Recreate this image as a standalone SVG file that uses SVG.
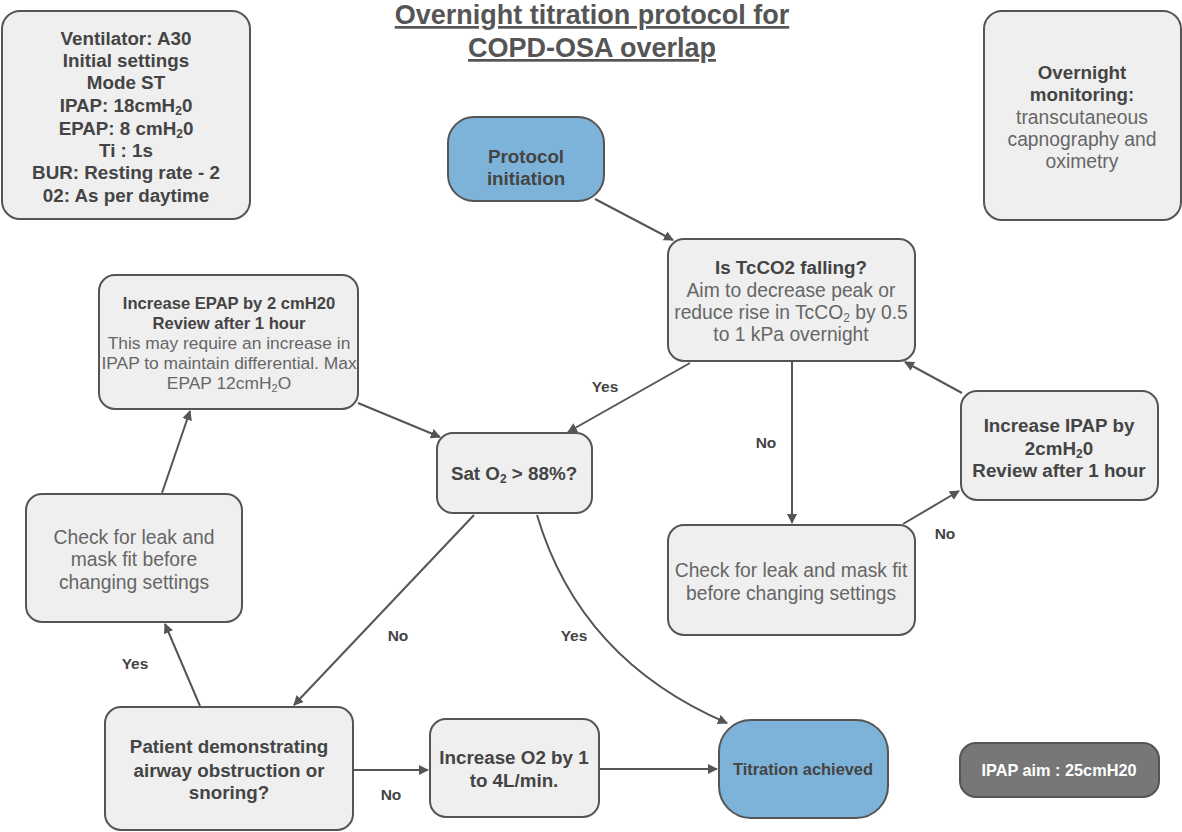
<svg xmlns="http://www.w3.org/2000/svg" width="1182" height="832" viewBox="0 0 1182 832">
<defs>
<marker id="ah" viewBox="0 0 10 10" refX="9" refY="5" markerWidth="10" markerHeight="10" markerUnits="userSpaceOnUse" orient="auto">
<path d="M0,0 L10,5 L0,10 z" fill="#555"/>
</marker>
<style>
.box{fill:#efefef;stroke:#555;stroke-width:2}
.blue{fill:#7db3d8;stroke:#555;stroke-width:2}
.dark{fill:#777;stroke:#555;stroke-width:2}
text{font-family:"Liberation Sans",Arial,sans-serif;text-anchor:middle}
.b{font-weight:bold;fill:#444;font-size:18.8px}
.n{fill:#666;font-size:19.3px}
.bs{font-weight:bold;fill:#444;font-size:16.6px}
.ns{fill:#666;font-size:17.4px}
.lbl{font-weight:bold;fill:#444;font-size:15.5px}
.c{fill:none;stroke:#555;stroke-width:2;marker-end:url(#ah)}
.sub{font-size:12px}
.subs{font-size:11px}
</style>
</defs>
<rect width="1182" height="832" fill="#fff"/>
<g id="title">
<text x="592" y="24" font-size="27" font-weight="bold" fill="#555" text-decoration="underline">Overnight titration protocol for</text>
<text x="592" y="57" font-size="27" font-weight="bold" fill="#555" text-decoration="underline">COPD-OSA overlap</text>
</g>
<g id="ventilator">
<rect class="box" x="2" y="11" width="248" height="208" rx="18"/>
<text class="b" x="126" y="45">Ventilator: A30</text>
<text class="b" x="126" y="67">Initial settings</text>
<text class="b" x="126" y="89">Mode ST</text>
<text class="b" x="126" y="112">IPAP: 18cmH<tspan class="sub" dy="3">2</tspan><tspan dy="-3">0</tspan></text>
<text class="b" x="126" y="135">EPAP: 8 cmH<tspan class="sub" dy="3">2</tspan><tspan dy="-3">0</tspan></text>
<text class="b" x="126" y="157">Ti : 1s</text>
<text class="b" x="126" y="179">BUR: Resting rate - 2</text>
<text class="b" x="126" y="202">02: As per daytime</text>
</g>
<g id="monitoring">
<rect class="box" x="984" y="11" width="197" height="209" rx="18"/>
<text class="b" x="1082" y="79">Overnight</text>
<text class="b" x="1082" y="101">monitoring:</text>
<text class="n" x="1082" y="124">transcutaneous</text>
<text class="n" x="1082" y="146">capnography and</text>
<text class="n" x="1082" y="168">oximetry</text>
</g>
<g id="protocol-initiation">
<rect class="blue" x="448" y="117" width="156" height="84" rx="26"/>
<text class="b" x="526" y="163">Protocol</text>
<text class="b" x="526" y="185">initiation</text>
</g>
<g id="tcco2">
<rect class="box" x="668" y="239" width="247" height="122" rx="16"/>
<text class="b" x="791" y="274">Is TcCO2 falling?</text>
<text class="n" x="791" y="297">Aim to decrease peak or</text>
<text class="n" x="791" y="319">reduce rise in TcCO<tspan class="sub" dy="3">2</tspan><tspan dy="-3"> by 0.5</tspan></text>
<text class="n" x="791" y="341">to 1 kPa overnight</text>
</g>
<g id="increase-epap">
<rect class="box" x="99" y="275" width="259" height="134" rx="16"/>
<text class="bs" x="229" y="309">Increase EPAP by 2 cmH20</text>
<text class="bs" x="229" y="329">Review after 1 hour</text>
<text class="ns" x="229" y="349">This may require an increase in</text>
<text class="ns" x="229" y="369">IPAP to maintain differential. Max</text>
<text class="ns" x="229" y="389">EPAP 12cmH<tspan class="subs" dy="3">2</tspan><tspan dy="-3">O</tspan></text>
</g>
<g id="sat-o2">
<rect class="box" x="437" y="433" width="155" height="80" rx="16"/>
<text class="b" x="514" y="480">Sat O<tspan class="sub" dy="3">2</tspan><tspan dy="-3"> &gt; 88%?</tspan></text>
</g>
<g id="increase-ipap">
<rect class="box" x="961" y="391" width="197" height="109" rx="16"/>
<text class="b" x="1059" y="432">Increase IPAP by</text>
<text class="b" x="1059" y="455">2cmH<tspan class="sub" dy="3">2</tspan><tspan dy="-3">0</tspan></text>
<text class="b" x="1059" y="477">Review after 1 hour</text>
</g>
<g id="check-leak-right">
<rect class="box" x="668" y="525" width="247" height="110" rx="16"/>
<text class="n" x="791" y="577">Check for leak and mask fit</text>
<text class="n" x="791" y="600">before changing settings</text>
</g>
<g id="check-leak-left">
<rect class="box" x="26" y="494" width="216" height="128" rx="16"/>
<text class="n" x="134" y="544">Check for leak and</text>
<text class="n" x="134" y="566">mask fit before</text>
<text class="n" x="134" y="589">changing settings</text>
</g>
<g id="patient">
<rect class="box" x="105" y="707" width="248" height="123" rx="16"/>
<text class="b" x="229" y="753">Patient demonstrating</text>
<text class="b" x="229" y="777">airway obstruction or</text>
<text class="b" x="229" y="799">snoring?</text>
</g>
<g id="increase-o2">
<rect class="box" x="430" y="719" width="169" height="98" rx="16"/>
<text class="b" x="514" y="764">Increase O2 by 1</text>
<text class="b" x="514" y="787">to 4L/min.</text>
</g>
<g id="titration-achieved">
<rect class="blue" x="719" y="720" width="169" height="98" rx="32"/>
<text class="bs" x="803" y="775" style="font-size:16.4px">Titration achieved</text>
</g>
<g id="ipap-aim">
<rect class="dark" x="960" y="743" width="199" height="54" rx="16"/>
<text x="1059" y="776" style="font-size:16.3px;font-weight:bold;fill:#fff">IPAP aim : 25cmH20</text>
</g>
<g id="connectors">
<line class="c" x1="595" y1="199" x2="673" y2="240"/>
<line class="c" x1="690" y1="363" x2="568" y2="432"/>
<line class="c" x1="792" y1="362" x2="792" y2="523"/>
<line class="c" x1="903" y1="524" x2="959" y2="491"/>
<line class="c" x1="962" y1="393" x2="905" y2="362"/>
<line class="c" x1="358" y1="403" x2="440" y2="437"/>
<line class="c" x1="162" y1="493" x2="190" y2="411"/>
<line class="c" x1="200" y1="706" x2="165" y2="624"/>
<line class="c" x1="474" y1="515" x2="294" y2="705"/>
<path class="c" d="M537,515 Q580,660 727,723"/>
<line class="c" x1="354" y1="770" x2="428" y2="770"/>
<line class="c" x1="600" y1="769" x2="717" y2="769"/>
</g>
<g id="labels">
<text class="lbl" x="605" y="392">Yes</text>
<text class="lbl" x="766" y="448">No</text>
<text class="lbl" x="945" y="539">No</text>
<text class="lbl" x="398" y="641">No</text>
<text class="lbl" x="574" y="641">Yes</text>
<text class="lbl" x="135" y="669">Yes</text>
<text class="lbl" x="391" y="800">No</text>
</g>
</svg>
